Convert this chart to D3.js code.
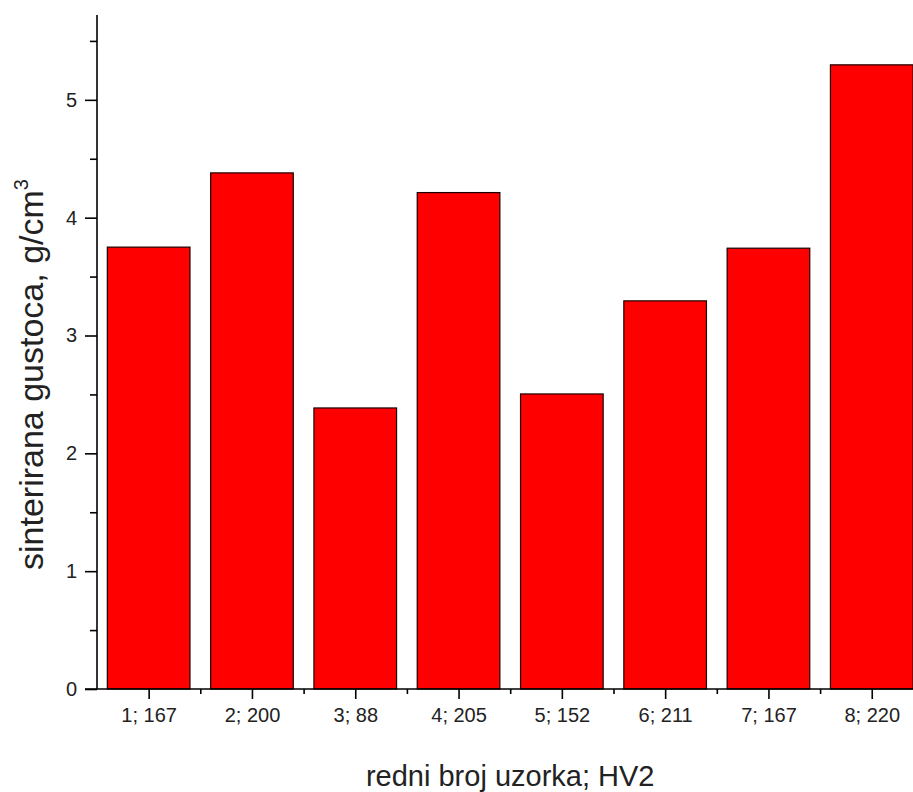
<!DOCTYPE html>
<html>
<head>
<meta charset="utf-8">
<script src="https://cdn.jsdelivr.net/npm/d3@7"></script>
<style>
  html, body { margin: 0; padding: 0; background: #fff; }
  svg { display: block; font-family: "Liberation Sans", Arial, sans-serif; }
</style>
</head>
<body>
<svg id="chart" width="913" height="792"></svg>
<script>
const categories = ["1; 167", "2; 200", "3; 88", "4; 205", "5; 152", "6; 211", "7; 167", "8; 220"];
const values = [3.75, 4.38, 2.385, 4.213, 2.504, 3.294, 3.741, 5.297];
const yTicks = [0, 1, 2, 3, 4, 5];
const yMinorTicks = [0.5, 1.5, 2.5, 3.5, 4.5, 5.5];
const xTitle = "redni broj uzorka; HV2";
const yTitleMain = "sinterirana gustoca, g/cm";
const yTitleSup = "3";

(function () {
const svg = d3.select("#chart");
const mLeft = 97, mTop = 15, mBottom = 689;
const step = 103.3;
const mRight = mLeft + step * categories.length;

const x = d3.scaleLinear().domain([0.5, categories.length + 0.5]).range([mLeft, mRight]);
const y = d3.scaleLinear().domain([0, 5.72]).range([mBottom, mTop]);

// bars
svg.append("g").selectAll("rect").data(values).join("rect")
  .attr("x", (d, i) => x(i + 1) - step * 0.4)
  .attr("width", step * 0.8)
  .attr("y", d => y(d))
  .attr("height", d => y(0) - y(d))
  .attr("fill", "#ff0000")
  .attr("stroke", "#1a0000")
  .attr("stroke-width", 1.2);

// y axis
const yAxis = d3.axisLeft(y).tickValues(yTicks).tickFormat(d3.format("d")).tickSizeInner(12).tickSizeOuter(0).tickPadding(8);
const gy = svg.append("g").attr("transform", `translate(${mLeft},0)`).call(yAxis);
gy.select(".domain").attr("stroke", "#000").attr("stroke-width", 1.6).attr("d", `M0,${mTop}V${mBottom}`);
gy.selectAll(".tick line").attr("stroke", "#000").attr("stroke-width", 1.6);
gy.selectAll(".tick text").attr("font-size", 20).attr("fill", "#222")
  .attr("font-family", "'Liberation Sans', Arial, sans-serif");
const yMinor = d3.axisLeft(y).tickValues(yMinorTicks).tickFormat("").tickSizeInner(7).tickSizeOuter(0);
const gym = svg.append("g").attr("transform", `translate(${mLeft},0)`).call(yMinor);
gym.select(".domain").remove();
gym.selectAll(".tick line").attr("stroke", "#000").attr("stroke-width", 1.6);

// x axis
const xAxis = d3.axisBottom(x).tickValues(d3.range(1, categories.length + 1))
  .tickFormat((d) => categories[d - 1]).tickSizeInner(10).tickSizeOuter(0).tickPadding(9);
const gx = svg.append("g").attr("transform", `translate(0,${mBottom})`).call(xAxis);
gx.select(".domain").attr("stroke", "#000").attr("stroke-width", 1.6).attr("d", `M${mLeft - 12},0H${mRight}`);
gx.selectAll(".tick line").attr("stroke", "#000").attr("stroke-width", 1.6);
gx.selectAll(".tick text").attr("font-size", 20).attr("fill", "#222")
  .attr("font-family", "'Liberation Sans', Arial, sans-serif");
const xMinor = d3.axisBottom(x).tickValues(d3.range(1.5, categories.length + 0.5, 1))
  .tickFormat("").tickSizeInner(5).tickSizeOuter(0);
const gxm = svg.append("g").attr("transform", `translate(0,${mBottom})`).call(xMinor);
gxm.select(".domain").remove();
gxm.selectAll(".tick line").attr("stroke", "#000").attr("stroke-width", 1.6);

// x title
svg.append("text")
  .attr("x", (mLeft + mRight) / 2)
  .attr("y", 786)
  .attr("text-anchor", "middle")
  .attr("font-size", 29)
  .attr("fill", "#222")
  .text(xTitle);

// y title
const yt = svg.append("text")
  .attr("transform", `translate(43,570) rotate(-90)`)
  .attr("font-size", 34)
  .attr("fill", "#222");
yt.append("tspan").text(yTitleMain);
yt.append("tspan").attr("dy", -15).attr("font-size", 20).text(yTitleSup);
})();
</script>
</body>
</html>
